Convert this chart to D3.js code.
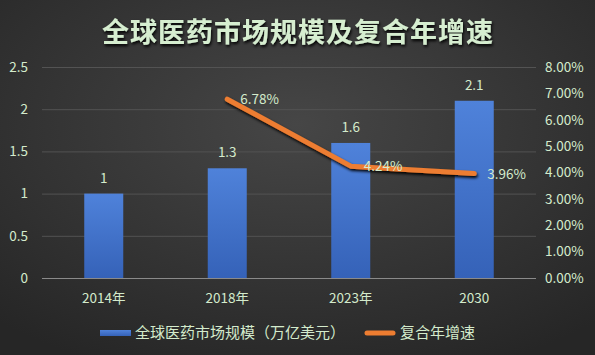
<!DOCTYPE html>
<html><head><meta charset="utf-8">
<script src="https://cdn.jsdelivr.net/npm/d3@7"></script>
<style>html,body{margin:0;padding:0;background:#2e2e2e;}svg{display:block;}</style>
</head><body><svg id="c" width="595" height="355"></svg>
<script>
const categories = ["2014年","2018年","2023年","2030"];
const marketSize = [1, 1.3, 1.6, 2.1];
const cagrCats = ["2018年","2023年","2030"];
const cagr = [0.0678, 0.0424, 0.0396];
const leftTicks = [0,0.5,1,1.5,2,2.5];
const rightTicks = [0,0.01,0.02,0.03,0.04,0.05,0.06,0.07,0.08];
const title = "全球医药市场规模及复合年增速";
const legendBar = "全球医药市场规模（万亿美元）";
const legendLine = "复合年增速";

const W=595,H=355;
const svg=d3.select("#c");
const defs=svg.append("defs");
const bg=defs.append("radialGradient").attr("id","bg").attr("cx","50%").attr("cy","35%").attr("r","75%");
bg.append("stop").attr("offset","0%").attr("stop-color","#464646");
bg.append("stop").attr("offset","100%").attr("stop-color","#262626");
const bb=defs.append("linearGradient").attr("id","bar").attr("x1",0).attr("y1",0).attr("x2",0).attr("y2",1);
bb.append("stop").attr("offset","0%").attr("stop-color","#4f82da");
bb.append("stop").attr("offset","100%").attr("stop-color","#3562b8");
const f=defs.append("filter").attr("id","glow").attr("x","-10%").attr("y","-30%").attr("width","120%").attr("height","160%");
f.append("feGaussianBlur").attr("in","SourceAlpha").attr("stdDeviation",1.5).attr("result","b");
f.append("feOffset").attr("in","b").attr("dx",1).attr("dy",1.5).attr("result","o");
const fm=f.append("feMerge");fm.append("feMergeNode").attr("in","o");fm.append("feMergeNode").attr("in","SourceGraphic");
const ls=defs.append("filter").attr("id","ls").attr("x","-10%").attr("y","-30%").attr("width","120%").attr("height","160%");
ls.append("feGaussianBlur").attr("in","SourceAlpha").attr("stdDeviation",1.5).attr("result","b");
ls.append("feOffset").attr("in","b").attr("dx",1).attr("dy",2).attr("result","o");
const lm=ls.append("feMerge");lm.append("feMergeNode").attr("in","o");lm.append("feMergeNode").attr("in","SourceGraphic");

svg.append("rect").attr("width",W).attr("height",H).attr("fill","url(#bg)");

const font='"Microsoft YaHei","Noto Sans CJK SC",sans-serif';
const txt="#d4ebcc";
svg.append("text").attr("x",298).attr("y",42).attr("text-anchor","middle")
  .attr("font-family",font).attr("font-size",27).attr("font-weight","bold")
  .attr("fill","#d6eed0").attr("filter","url(#glow)").attr("letter-spacing",1).text(title);

const x0=42,x1=536,yTop=67,yBot=278;
const x=d3.scaleBand().domain(categories).range([x0,x1]);
const yL=d3.scaleLinear().domain([0,2.5]).range([yBot,yTop]);
const yR=d3.scaleLinear().domain([0,0.08]).range([yBot,yTop]);

// grid
svg.append("g").selectAll("line").data(leftTicks.slice(1)).join("line")
  .attr("x1",x0).attr("x2",x1).attr("y1",d=>yL(d)+0.5).attr("y2",d=>yL(d)+0.5)
  .attr("stroke","#535353").attr("stroke-width",1);

// axes
const la=svg.append("g").attr("transform",`translate(${x0-14},0)`)
  .call(d3.axisLeft(yL).tickValues(leftTicks).tickSize(0).tickPadding(0).tickFormat(d=>d3.format("")(d)));
const ra=svg.append("g").attr("transform",`translate(${x1+9},0)`)
  .call(d3.axisRight(yR).tickValues(rightTicks).tickSize(0).tickPadding(0).tickFormat(d3.format(".2%")));
const xa=svg.append("g").attr("transform",`translate(0,${yBot+20})`)
  .call(d3.axisBottom(x).tickSize(0).tickPadding(0));
[la,ra,xa].forEach(g=>{g.select(".domain").remove();g.selectAll("text").attr("fill",txt).attr("font-family",font).attr("font-size",13.5);});
xa.selectAll("text").attr("dy","0.35em");

// bars
const bw=39;
svg.append("g").selectAll("rect").data(categories).join("rect")
  .attr("x",d=>x(d)+x.bandwidth()/2-bw/2).attr("width",bw)
  .attr("y",(d,i)=>yL(marketSize[i])).attr("height",(d,i)=>yBot-yL(marketSize[i]))
  .attr("fill","url(#bar)");
svg.append("g").selectAll("text").data(categories).join("text")
  .attr("x",d=>x(d)+x.bandwidth()/2).attr("y",(d,i)=>yL(marketSize[i])-11)
  .attr("text-anchor","middle").attr("font-family",font).attr("font-size",13.5).attr("fill",txt)
  .text((d,i)=>marketSize[i]);

// baseline
svg.append("line").attr("x1",x0).attr("x2",x1).attr("y1",yBot+0.5).attr("y2",yBot+0.5).attr("stroke","#8a8a8a").attr("stroke-width",1.2);

// line
const pts=cagrCats.map((c,i)=>[x(c)+x.bandwidth()/2,yR(cagr[i])]);
svg.append("path").attr("d",d3.line()(pts)).attr("fill","none").attr("stroke","#ed7d31")
  .attr("stroke-width",5).attr("stroke-linecap","round").attr("stroke-linejoin","round").attr("filter","url(#ls)");
svg.append("g").selectAll("text").data(cagrCats).join("text")
  .attr("x",(d,i)=>pts[i][0]+13).attr("y",(d,i)=>pts[i][1]+5)
  .attr("font-family",font).attr("font-size",13.5).attr("fill",txt)
  .text((d,i)=>d3.format(".2%")(cagr[i]));

// legend
svg.append("rect").attr("x",100).attr("y",330).attr("width",31).attr("height",6).attr("fill","url(#bar)");
svg.append("text").attr("x",135).attr("y",338).attr("font-family",font).attr("font-size",15).attr("fill",txt).text(legendBar);
svg.append("line").attr("x1",367).attr("x2",393).attr("y1",333).attr("y2",333).attr("stroke","#ed7d31").attr("stroke-width",5).attr("stroke-linecap","round");
svg.append("text").attr("x",400).attr("y",338).attr("font-family",font).attr("font-size",15).attr("fill",txt).text(legendLine);
</script></body></html>
